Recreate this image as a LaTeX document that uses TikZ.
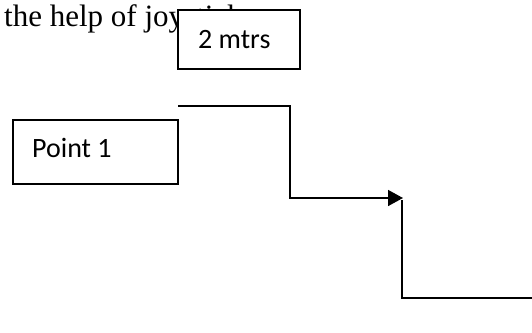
\documentclass[tikz,border=0pt]{standalone}
\usepackage{fontspec}
\setmainfont{Liberation Serif}
\newfontfamily\boxfont{Carlito}
\usetikzlibrary{arrows.meta}
\begin{document}
\begin{tikzpicture}[x=1pt,y=-1pt,
  boxshape/.style={draw=black, fill=white, line width=1.6pt, inner sep=0pt, anchor=north west},
  lbl/.style={inner sep=0pt, anchor=base west, font=\boxfont\fontsize{28}{28}\selectfont},
  conn/.style={draw=black, line width=1.6pt, line join=miter},
  tip/.style={-{Triangle[length=15pt,width=16pt]}}]
\useasboundingbox (0,0) rectangle (532,332);
% background paragraph text, partly covered by the box
\node[inner sep=0pt, anchor=base west, font=\fontsize{31}{31}\selectfont] (para) at (4,26) {the help of joystick};
% 2 mtrs box
\node[boxshape, minimum width=122pt, minimum height=59pt] (mtrsbox) at (177,9) {};
\node[lbl] (mtrs) at (198,48) {2 mtrs};
% Point 1 box
\node[boxshape, minimum width=165pt, minimum height=64pt] (p1box) at (12,119) {};
\node[lbl] (p1) at (32,157) {Point 1};
% connectors
\coordinate (s1) at (178,106);
\coordinate (k1) at (290,198);
\coordinate (a1) at (403,198);
\coordinate (s2) at (402,200);
\coordinate (e2) at (532,298);
\draw[conn, tip] (s1) -| (k1) -- (a1);
\draw[conn] (s2) |- (e2);
\end{tikzpicture}
\end{document}
